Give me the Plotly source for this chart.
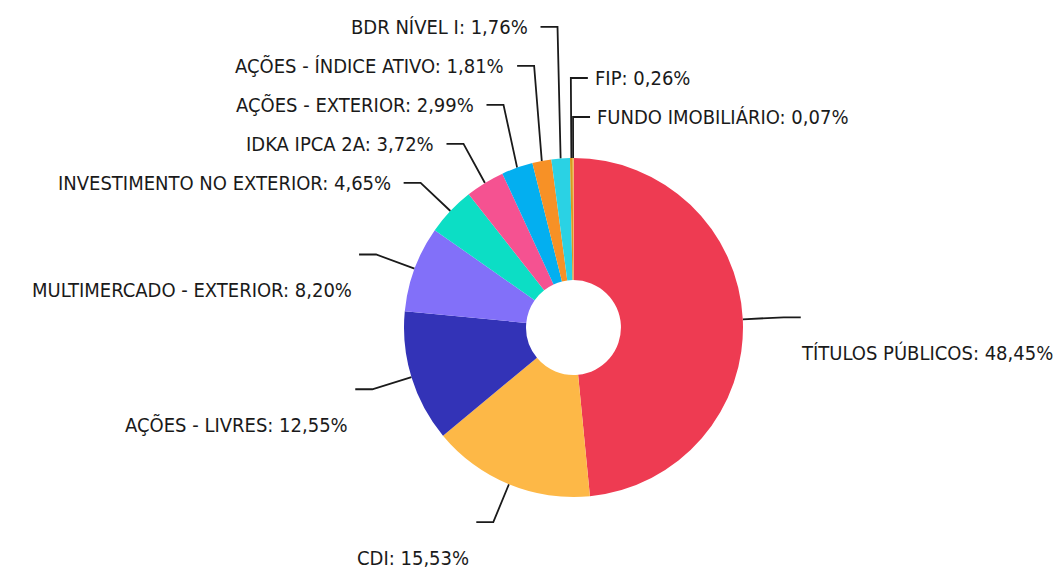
import math

import plotly.graph_objects as go

labels = [
    "TÍTULOS PÚBLICOS",
    "CDI",
    "AÇÕES - LIVRES",
    "MULTIMERCADO - EXTERIOR",
    "INVESTIMENTO NO EXTERIOR",
    "IDKA IPCA 2A",
    "AÇÕES - EXTERIOR",
    "AÇÕES - ÍNDICE ATIVO",
    "BDR NÍVEL I",
    "FIP",
    "FUNDO IMOBILIÁRIO",
]
values = [48.45, 15.53, 12.55, 8.20, 4.65, 3.72, 2.99, 1.81, 1.76, 0.26, 0.07]
colors = [
    "#EE3B52", "#FDB847", "#3333B7", "#8270F9", "#0CDEC5", "#F55291",
    "#03AFF0", "#F79126", "#2AD2E4", "#D99A1E", "#F2CF3A",
]

# the page body keeps its default 8px margin, so the figure is drawn that much smaller
PAGE = 8
W, H = 1062 - PAGE, 570 - PAGE
CX, CY, R = 573.5 - PAGE, 327.5 - PAGE, 169.5
HOLE = 0.28
EXT, GAP, TAIL = 41, 39, 17
INK = "#1a1a1a"
FONT = {"family": "DejaVu Sans Condensed", "size": 20, "color": INK}


def _fmt(value: float) -> str:
    return f"{value:.2f}".replace(".", ",") + "%"


# leader line layout, computed from the slice angles
total = sum(values)
items = []
acc = 0.0
for i, v in enumerate(values):
    deg = (acc + v / 2) / total * 360
    acc += v
    a = math.radians(deg)
    sx, cy = math.sin(a), math.cos(a)
    side = 1 if sx > -0.05 else -1
    items.append({
        "i": i,
        "side": side,
        "order": (deg - 360 if deg > 180 else deg) if side > 0 else -deg,
        "ax": CX + R * sx,
        "ay": CY - R * cy,
        "ex": CX + (R + EXT) * sx,
        "ey": CY - (R + EXT) * cy,
        "top": cy > 0.5,
    })

# push crowded labels upward so they keep a fixed spacing
for side in (1, -1):
    group = sorted((it for it in items if it["side"] == side), key=lambda it: it["order"])
    for k in range(len(group) - 2, -1, -1):
        group[k]["ey"] = min(group[k]["ey"], group[k + 1]["ey"] - GAP)

line_x, line_y = [], []
annotations = []
for it in items:
    end = it["ex"] + it["side"] * TAIL
    line_x += [it["ax"], it["ex"], end, None]
    line_y += [it["ay"], it["ey"], it["ey"], None]
    if it["top"]:
        pad = 5 if it["side"] > 0 else 11
        tx, ty = end + it["side"] * pad, it["ey"]
    else:
        pad = -2 if it["side"] > 0 else 5
        tx, ty = end + it["side"] * pad, it["ey"] + 36
    annotations.append({
        "x": tx,
        "y": ty,
        "xref": "x",
        "yref": "y",
        "text": f"{labels[it['i']]}: {_fmt(values[it['i']])}",
        "showarrow": False,
        "xanchor": "left" if it["side"] > 0 else "right",
        "yanchor": "middle",
        "font": FONT,
    })

fig = go.Figure()
fig.add_scatter(
    x=line_x,
    y=line_y,
    mode="lines",
    line={"color": INK, "width": 1.8},
    hoverinfo="skip",
    showlegend=False,
)
fig.add_pie(
    labels=labels,
    values=values,
    hole=HOLE,
    sort=False,
    direction="clockwise",
    rotation=0,
    textinfo="none",
    marker={"colors": colors, "line": {"width": 0}},
    domain={
        "x": [(CX - R) / W, (CX + R) / W],
        "y": [(H - CY - R) / H, (H - CY + R) / H],
    },
    showlegend=False,
)
fig.update_layout(
    width=W,
    height=H,
    margin={"l": 0, "r": 0, "t": 0, "b": 0},
    paper_bgcolor="white",
    plot_bgcolor="white",
    xaxis={"range": [0, W], "visible": False, "fixedrange": True},
    yaxis={"range": [H, 0], "visible": False, "fixedrange": True},
    annotations=annotations,
    showlegend=False,
)
fig.write_html("out.html")
